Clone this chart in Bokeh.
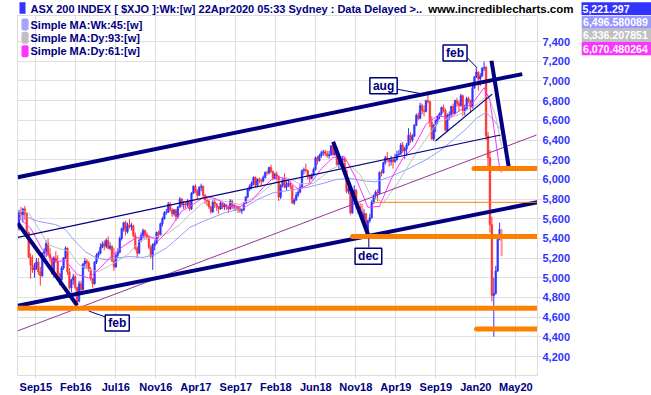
import numpy as np
from bokeh.plotting import figure
from bokeh.layouts import column, row
from bokeh.models import Range1d, FixedTicker, NumeralTickFormatter, Label, ColumnDataSource
from bokeh.core.properties import value
from bokeh.embed import file_html
from bokeh.resources import INLINE

# ---------------- data (weekly bars, week of 13 Jul 2015 .. week of 20 Apr 2020) -------------
week_open = [
    5500, 5660, 5640, 5700, 5650, 5460, 5210, 5130, 5080, 5100,
    5160, 5060, 5020, 5250, 5270, 5350, 5240, 5200, 5040, 5200,
    5170, 5040, 4980, 5100, 5200, 5300, 5060, 4900, 4980, 5010,
    4900, 4760, 4940, 4880, 5140, 5170, 5150, 5080, 4990, 4940,
    5160, 5230, 5250, 5310, 5350, 5320, 5380, 5300, 5320, 5170,
    5110, 5230, 5260, 5400, 5500, 5560, 5470, 5540, 5520, 5530,
    5430, 5300, 5250, 5380, 5430, 5480, 5440, 5420, 5310, 5220,
    5330, 5350, 5460, 5440, 5550, 5600, 5660, 5665, 5750, 5690,
    5650, 5690, 5620, 5720, 5800, 5740, 5750, 5740, 5780, 5700,
    5860, 5930, 5880, 5840, 5920, 5930, 5840, 5790, 5780, 5720,
    5670, 5770, 5750, 5720, 5700, 5760, 5720, 5740, 5720, 5700,
    5780, 5720, 5730, 5720, 5700, 5680, 5690, 5760, 5820, 5900,
    5930, 5960, 6020, 5940, 6000, 5990, 5980, 6020, 6070, 6065,
    6120, 6080, 6010, 6050, 6030, 5820, 5940, 6000, 5920, 5950,
    5960, 5930, 5760, 5790, 5840, 5870, 5920, 6090, 6100, 6090,
    6030, 6010, 6040, 6100, 6220, 6190, 6240, 6270, 6280, 6260,
    6240, 6250, 6340, 6250, 6320, 6150, 6180, 6200, 6210, 6090,
    5880, 5900, 5660, 5850, 5890, 5730, 5720, 5670, 5600, 5650,
    5470, 5580, 5610, 5770, 5830, 5870, 5860, 6070, 6065, 6170,
    6220, 6200, 6180, 6200, 6180, 6200, 6250, 6260, 6350, 6290,
    6310, 6350, 6450, 6400, 6440, 6550, 6650, 6620, 6750, 6700,
    6690, 6800, 6790, 6580, 6410, 6550, 6600, 6640, 6670, 6730,
    6700, 6500, 6650, 6660, 6740, 6670, 6800, 6770, 6750, 6850,
    6700, 6720, 6820, 6800, 6730, 6930, 7040, 7090, 7020, 7050,
    7130, 7140, 6440, 6220, 5540, 4820, 4840, 5070, 5390, 5490,
]
week_high = [
    5690, 5720, 5710, 5730, 5660, 5470, 5250, 5230, 5150, 5200,
    5200, 5110, 5260, 5300, 5380, 5400, 5300, 5210, 5220, 5270,
    5230, 5050, 5120, 5210, 5320, 5310, 5100, 4990, 5040, 5030,
    4910, 4970, 4970, 5150, 5200, 5190, 5170, 5110, 5000, 5170,
    5250, 5270, 5350, 5370, 5380, 5400, 5420, 5360, 5330, 5300,
    5250, 5300, 5420, 5510, 5570, 5580, 5560, 5600, 5560, 5540,
    5460, 5320, 5400, 5460, 5500, 5490, 5460, 5430, 5330, 5350,
    5380, 5470, 5480, 5560, 5620, 5680, 5700, 5770, 5770, 5710,
    5700, 5700, 5730, 5820, 5810, 5780, 5780, 5800, 5790, 5870,
    5940, 5950, 5900, 5930, 5956, 5940, 5850, 5810, 5790, 5730,
    5790, 5800, 5760, 5730, 5780, 5770, 5760, 5750, 5730, 5800,
    5790, 5750, 5740, 5730, 5720, 5700, 5770, 5830, 5910, 5950,
    5980, 6030, 6030, 6010, 6020, 6010, 6040, 6080, 6090, 6130,
    6150, 6090, 6070, 6080, 6040, 5950, 6020, 6060, 5980, 6000,
    5980, 5940, 5810, 5870, 5890, 5950, 6100, 6120, 6160, 6100,
    6050, 6060, 6120, 6230, 6240, 6260, 6290, 6300, 6300, 6290,
    6290, 6350, 6375, 6330, 6330, 6190, 6230, 6240, 6220, 6100,
    5940, 5920, 5860, 5940, 5900, 5760, 5760, 5750, 5700, 5660,
    5590, 5650, 5790, 5850, 5890, 5900, 6080, 6100, 6180, 6240,
    6280, 6210, 6240, 6220, 6260, 6290, 6300, 6370, 6380, 6330,
    6370, 6520, 6480, 6460, 6560, 6670, 6680, 6780, 6770, 6750,
    6810, 6890, 6800, 6640, 6560, 6610, 6650, 6680, 6740, 6760,
    6720, 6670, 6690, 6750, 6770, 6810, 6830, 6800, 6870, 6860,
    6760, 6840, 6840, 6810, 6950, 7050, 7130, 7100, 7080, 7140,
    7197, 7150, 6480, 6300, 5620, 5000, 5120, 5390, 5560, 5500,
]
week_low = [
    5480, 5600, 5560, 5590, 5440, 5200, 4990, 5050, 5000, 5080,
    5030, 4920, 5010, 5180, 5210, 5220, 5160, 5030, 5000, 5150,
    5030, 4920, 4940, 5080, 5190, 5030, 4880, 4850, 4930, 4880,
    4706, 4750, 4850, 4870, 5090, 5090, 5060, 4970, 4900, 4930,
    5140, 5200, 5240, 5300, 5280, 5300, 5290, 5280, 5160, 5070,
    5100, 5200, 5250, 5380, 5470, 5430, 5450, 5500, 5480, 5410,
    5280, 5200, 5240, 5360, 5400, 5400, 5390, 5290, 5200, 5080,
    5280, 5340, 5400, 5430, 5520, 5590, 5640, 5660, 5670, 5620,
    5630, 5580, 5600, 5710, 5720, 5700, 5710, 5720, 5680, 5690,
    5850, 5860, 5800, 5830, 5880, 5820, 5750, 5730, 5700, 5650,
    5660, 5710, 5680, 5650, 5690, 5700, 5690, 5690, 5660, 5690,
    5700, 5690, 5680, 5660, 5660, 5650, 5680, 5750, 5810, 5880,
    5900, 5940, 5920, 5930, 5960, 5940, 5970, 6010, 6040, 6050,
    6060, 5990, 6000, 5990, 5780, 5800, 5920, 5910, 5890, 5920,
    5900, 5750, 5740, 5780, 5820, 5860, 5910, 6050, 6070, 6000,
    5960, 6000, 6030, 6090, 6150, 6180, 6220, 6240, 6240, 6220,
    6210, 6240, 6240, 6240, 6140, 6110, 6160, 6180, 6070, 5860,
    5850, 5640, 5650, 5830, 5700, 5650, 5640, 5590, 5570, 5420,
    5410, 5560, 5600, 5750, 5800, 5780, 5850, 6030, 6060, 6150,
    6180, 6130, 6140, 6110, 6170, 6190, 6240, 6250, 6270, 6210,
    6240, 6340, 6370, 6380, 6430, 6540, 6600, 6610, 6660, 6640,
    6680, 6770, 6530, 6400, 6390, 6480, 6560, 6610, 6650, 6680,
    6490, 6480, 6600, 6640, 6660, 6660, 6740, 6690, 6740, 6640,
    6650, 6710, 6770, 6680, 6720, 6920, 7030, 6900, 6950, 7040,
    7100, 6400, 6100, 5460, 4760, 4402, 4830, 5060, 5380, 5220,
]
week_close = [
    5660, 5640, 5700, 5650, 5460, 5210, 5130, 5080, 5100, 5160,
    5060, 5020, 5250, 5270, 5350, 5240, 5200, 5040, 5200, 5170,
    5040, 4980, 5100, 5200, 5300, 5060, 4900, 4980, 5010, 4900,
    4760, 4940, 4880, 5140, 5170, 5150, 5080, 4990, 4940, 5160,
    5230, 5250, 5310, 5340, 5320, 5380, 5300, 5320, 5170, 5110,
    5230, 5260, 5400, 5500, 5560, 5470, 5530, 5520, 5530, 5430,
    5300, 5250, 5380, 5430, 5480, 5440, 5420, 5310, 5220, 5340,
    5350, 5460, 5440, 5550, 5600, 5660, 5665, 5750, 5690, 5650,
    5690, 5620, 5720, 5800, 5740, 5750, 5740, 5780, 5700, 5860,
    5930, 5880, 5840, 5920, 5930, 5840, 5790, 5780, 5720, 5670,
    5770, 5750, 5720, 5700, 5760, 5720, 5740, 5720, 5700, 5780,
    5720, 5730, 5720, 5700, 5680, 5690, 5760, 5820, 5900, 5930,
    5960, 6020, 5940, 6000, 5990, 5980, 6020, 6070, 6065, 6120,
    6080, 6010, 6050, 6030, 5820, 5940, 6000, 5920, 5950, 5960,
    5930, 5760, 5790, 5840, 5870, 5920, 6090, 6100, 6090, 6030,
    6010, 6040, 6100, 6220, 6190, 6240, 6270, 6280, 6260, 6240,
    6250, 6340, 6250, 6320, 6150, 6180, 6200, 6210, 6090, 5880,
    5900, 5660, 5850, 5890, 5730, 5720, 5670, 5600, 5650, 5470,
    5580, 5610, 5770, 5830, 5870, 5860, 6070, 6065, 6170, 6220,
    6200, 6180, 6200, 6180, 6200, 6250, 6260, 6350, 6290, 6310,
    6350, 6450, 6400, 6440, 6550, 6650, 6620, 6750, 6700, 6690,
    6800, 6790, 6580, 6410, 6550, 6600, 6640, 6670, 6730, 6700,
    6500, 6650, 6660, 6740, 6670, 6800, 6770, 6750, 6850, 6700,
    6720, 6820, 6800, 6730, 6930, 7040, 7090, 7020, 7050, 7130,
    7140, 6440, 6220, 5540, 4820, 4840, 5070, 5390, 5490, 5221.297,
]

# moving averages (bar index, value)
ma45_x = [0, 3, 10, 19, 24, 29, 34, 40, 45, 50, 57, 64, 70, 76, 81, 88, 95, 106, 116, 123,
          131, 140, 149, 157, 164, 171, 178, 184, 192, 202, 210, 217, 224, 230, 236, 241, 245, 249]
ma45_y = [5650, 5625, 5574, 5540, 5489, 5370, 5268, 5200, 5183, 5200, 5217, 5207, 5235, 5302, 5387,
          5510, 5574, 5659, 5710, 5795, 5863, 5890, 5920, 5960, 6000, 6010, 5985, 5975, 6030, 6118,
          6200, 6288, 6400, 6500, 6620, 6680, 6600, 6496.58]
ma93_x = [0, 5, 10, 15, 20, 26, 31, 36, 41, 46, 52, 57, 62, 67, 72, 77, 83, 88, 97, 106, 114,
          123, 131, 138, 145, 152, 161, 169, 176, 181, 188, 195, 205, 216, 228, 236, 242, 246, 249]
ma93_y = [5694, 5659, 5506, 5336, 5302, 5268, 5132, 5081, 5064, 5115, 5183, 5251, 5370, 5404, 5421,
          5455, 5540, 5640, 5800, 5778, 5744, 5830, 5960, 6020, 5955, 5960, 6100, 6180, 6050, 5850,
          5760, 5950, 6270, 6580, 6665, 6760, 6860, 6640, 6336.21]
ma61_x = [0, 6, 12, 18, 24, 30, 36, 42, 48, 54, 60, 66, 72, 78, 84, 90, 96, 102, 108, 114, 120,
          126, 132, 138, 144, 150, 156, 162, 168, 174, 180, 186, 192, 198, 204, 210, 216, 222, 228,
          234, 240, 243, 246, 248, 249]
ma61_y = [5608, 5504, 5288, 5164, 5174, 5033, 4998, 5103, 5226, 5324, 5403, 5432, 5377, 5503, 5678,
          5748, 5830, 5801, 5729, 5723, 5783, 5918, 6029, 6005, 5901, 5949, 6108, 6223, 6231, 6005,
          5717, 5725, 6004, 6214, 6336, 6559, 6648, 6623, 6708, 6773, 6931, 6800, 6390, 6110, 6070.48]

# hand-drawn trend lines (bar index, price)
thick_lines = [
    ([-0.62, 259.65], [6022, 7070]),   # upper channel
    ([-0.62, 267.4], [4716, 5767]),    # lower channel
    ([-0.62, 30.0], [5556, 4720]),     # 2015-16 down trend
    ([162.1, 180.5], [6383, 5420]),    # 2018 down trend
    ([243.8, 252.7], [7206, 6124]),    # 2020 down trend
]
thin_lines = [
    ([-0.62, 248.5], [5410, 6451]),    # mid channel
    ([214.9, 244.2], [6390, 6866]),    # 2019 support
]
purple_line = ([-0.62, 267.0], [4461, 6451])
orange_levels = [4690, 5420, 6110, 4480]
orange_starts = [-0.62, 172.1, 234.8, 236.1]
thin_orange_level, thin_orange_start = 5767, 182.4

notes = [  # text, label x, label y, pointer x0, y0, x1, y1
    ("feb", 50.7, 4540, 36.0, 4662, 44.3, 4604),
    ("dec", 180.3, 5219, 180.5, 5400, 180.5, 5308),
    ("aug", 188.1, 6951, 194.1, 6920, 207.2, 6872),
    ("feb", 225.0, 7283, 231.3, 7237, 236.4, 7132),
]

tick_labels = ["Sep15", "Feb16", "Jul16", "Nov16", "Apr17", "Sep17", "Feb18",
               "Jun18", "Nov18", "Apr19", "Sep19", "Jan20", "May20"]
price_ticks = list(range(4200, 7401, 200))

title_text = "ASX 200 INDEX [ $XJO ]:Wk:[w] 22Apr2020 05:33 Sydney : Data Delayed >.."
site_text = "www.incrediblecharts.com"
legend_rows = [("Simple MA:Wk:45:[w]", "#A4A4F8"),
               ("Simple MA:Dy:93:[w]", "#C0C0C0"),
               ("Simple MA:Dy:61:[w]", "#FF33FF")]
value_texts = ["5,221.297", "6,496.580089", "6,336.207851", "6,070.480264"]
value_colors = ["#3333FF", "#9999FF", "#C0C0C0", "#FF33FF"]

# ---------------- styling ----------------
NAVY = "#000080"
UP, DOWN, CURRENT = "#3333FF", "#FF3333", "#FF9999"
ORANGE = "#FF8000"
GRID = "#E0E0E0"
FONT = "Liberation Sans"


def blank(fig):
    fig.grid.visible = False
    fig.outline_line_color = None
    fig.background_fill_color = "white"
    fig.border_fill_color = "white"


# ---------------- header strip (row 1) ----------------
header = figure(width=651, height=15, output_backend="svg", toolbar_location=None,
                x_range=Range1d(0, 651), y_range=Range1d(0, 15),
                x_axis_location=None, y_axis_location=None, min_border=0)
blank(header)
header.quad(left=[19], right=[25], bottom=[1.7], top=[13.3], fill_color=value_colors[0],
            line_color=None)
header.text(x=[30], y=[6.2], text=[title_text], text_font=value(FONT), text_font_style="bold",
            text_font_size="11px", text_color=NAVY, text_baseline="middle")
header.text(x=[573], y=[7], text=[site_text], text_font=value(FONT), text_font_style="bold",
            text_font_size="11.5px", text_color="black", text_baseline="middle", text_align="right")
header.quad(left=[581], right=[651], bottom=[0], top=[13.3], fill_color=value_colors[0],
            line_color=None)
header.text(x=[582], y=[6.4], text=[value_texts[0]], text_font=value(FONT),
            text_font_style="bold", text_font_size="10.6px", text_color="white",
            text_baseline="middle")

# ---------------- value boxes 2-4 (right strip) ----------------
side = figure(width=70, height=380, output_backend="svg", toolbar_location=None,
              x_range=Range1d(0, 70), y_range=Range1d(0, 380),
              x_axis_location=None, y_axis_location=None, min_border=0)
blank(side)
tops = [380, 366, 352]
side.quad(left=[0] * 3, right=[70] * 3, top=tops, bottom=[t - 14 for t in tops],
          fill_color=value_colors[1:], line_color=None)
side.text(x=[1.5] * 3, y=[t - 7 for t in tops], text=value_texts[1:], text_font=value(FONT),
          text_font_style="bold", text_font_size="10.6px", text_color="white",
          text_baseline="middle")

# ---------------- main chart ----------------
fig = figure(width=581, height=380, output_backend="svg", toolbar_location=None,
             x_range=Range1d(-0.774, 267.54), y_range=Range1d(4007.2, 7665.3),
             y_axis_location="right", min_border_left=17, min_border_right=44,
             min_border_top=0, min_border_bottom=0,
             background_fill_color="white", border_fill_color="white")
fig.outline_line_color = "#DDDDDD"

first_tick, tick_every = 8.67, 20.64
xt = [round(first_tick + tick_every * k, 2) for k in range(len(tick_labels))]
fig.xaxis.ticker = FixedTicker(ticks=xt)
fig.xaxis.major_label_overrides = {t: lab for t, lab in zip(xt, tick_labels)}
fig.yaxis.ticker = FixedTicker(ticks=price_ticks)
fig.yaxis.formatter = NumeralTickFormatter(format="0,0")

for ax in (fig.xaxis, fig.yaxis):
    ax.axis_line_color = "#DDDDDD"
    ax.major_tick_line_color = "#DDDDDD"
    ax.minor_tick_line_color = None
    ax.major_tick_in = 0
    ax.major_label_text_font = FONT
    ax.major_label_text_font_style = "bold"
    ax.major_label_text_font_size = "11px"
fig.xaxis.major_tick_out = 3
fig.xaxis.major_label_standoff = 2
fig.xaxis.major_label_text_color = NAVY
fig.yaxis.major_tick_out = 4
fig.yaxis.major_label_standoff = 1
fig.yaxis.major_label_text_color = "#3333FF"
fig.xgrid.grid_line_color = GRID
fig.ygrid.grid_line_color = GRID

# candles
o = np.array(week_open, dtype=float)
c = np.array(week_close, dtype=float)
colors = [UP if cc >= oo else DOWN for oo, cc in zip(o, c)]
colors[-1] = CURRENT
src = ColumnDataSource(dict(x=np.arange(len(c)), top=np.maximum(o, c), bottom=np.minimum(o, c),
                            high=week_high, low=week_low, color=colors))
fig.segment("x", "high", "x", "low", source=src, line_color="color", line_width=1)
fig.vbar(x="x", width=0.85, top="top", bottom="bottom", source=src,
         fill_color="color", line_color="color", line_width=0.5)

# moving averages
fig.line(ma45_x, ma45_y, line_color="#9999FF", line_width=1)
fig.line(ma93_x, ma93_y, line_color="#C0C0C0", line_width=1)
fig.line(ma61_x, ma61_y, line_color="#FF33FF", line_width=1)

# drawn lines
fig.line(purple_line[0], purple_line[1], line_color="#993399", line_width=1)
for xs, ys in thin_lines:
    fig.line(xs, ys, line_color=NAVY, line_width=1.2)
for xs, ys in thick_lines:
    fig.line(xs, ys, line_color=NAVY, line_width=4)
fig.segment(x0=[thin_orange_start], y0=[thin_orange_level], x1=[268], y1=[thin_orange_level],
            line_color=ORANGE, line_width=1)
fig.segment(x0=orange_starts, y0=orange_levels, x1=[268] * len(orange_levels), y1=orange_levels,
            line_color=ORANGE, line_width=5, line_cap="round")

# notes
fig.segment(x0=[n[3] for n in notes], y0=[n[4] for n in notes],
            x1=[n[5] for n in notes], y1=[n[6] for n in notes], line_color=NAVY, line_width=1)
for text, lx, ly, *_ in notes:
    fig.add_layout(Label(x=lx, y=ly, text=text, text_align="center", text_baseline="middle",
                         text_font=FONT, text_font_style="bold", text_font_size="12px",
                         text_color=NAVY, background_fill_color="white",
                         border_line_color=NAVY, border_line_width=1.5,
                         padding=dict(left=3, right=3, top=1, bottom=1)))

# legend rows 2-4 inside the chart (x in pixels from the frame's left edge, y as price level)
FL = 17
row_price = [7573, 7438, 7301]
for (text, col), ry in zip(legend_rows, row_price):
    fig.add_layout(Label(x=21 - FL, y=ry, x_units="screen", text=" ",
                         text_baseline="middle", text_font=FONT, text_font_size="11px",
                         background_fill_color=col, border_radius=2,
                         padding=dict(left=2, right=2, top=0, bottom=0)))
    fig.add_layout(Label(x=30 - FL, y=ry, x_units="screen", text=text,
                         text_baseline="middle", text_font=FONT, text_font_style="bold",
                         text_font_size="11px", text_color=NAVY))

p = column(header, row(fig, side))
open("out.html", "w").write(file_html(p, INLINE))
